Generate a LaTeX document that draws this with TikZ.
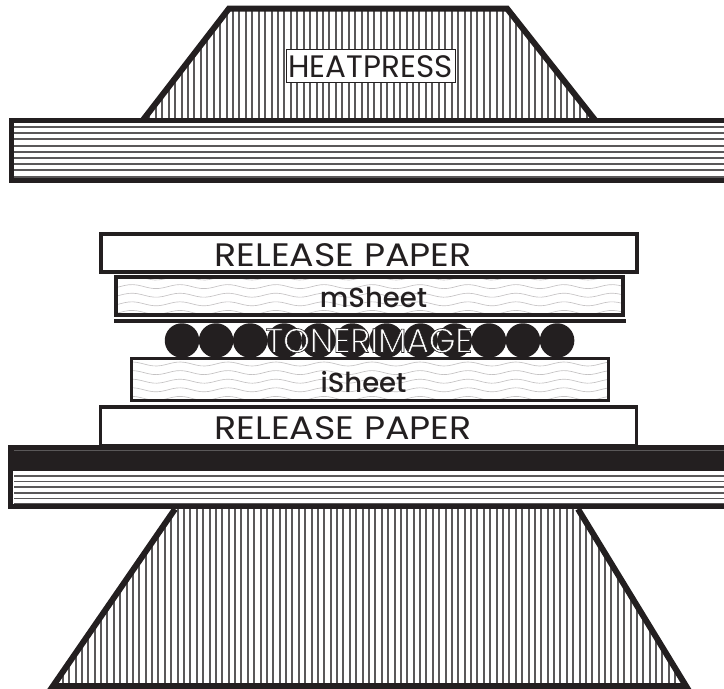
\documentclass[tikz,border=0pt]{standalone}
\usepackage{fontspec}
\setmainfont{Poppins Light}
\newfontfamily\medfont{Poppins Medium}
\newfontfamily\regfont{Poppins}
\newfontfamily\widefont[FakeStretch=1.12]{Poppins}
\definecolor{ink}{HTML}{231F20}
\definecolor{hatchgray}{HTML}{5A5859}
\definecolor{wavegray}{HTML}{C4C2C3}
\tikzset{
  heavy/.style={draw=ink,line width=6pt,line join=miter},
  hatchline/.style={draw=hatchgray,line width=2pt},
  waveline/.style={draw=wavegray,line width=.65pt},
  paperbox/.style={draw=ink,line width=4pt,fill=white},
  sheetbox/.style={draw=ink,line width=4pt},
  papertext/.style={inner sep=0pt,anchor=base,font=\widefont\fontsize{32.5}{32.5}\selectfont,text=ink},
  sheettext/.style={inner sep=0pt,anchor=base,font=\medfont\fontsize{27.5}{27.5}\selectfont,text=ink},
  toner/.style={circle,fill=ink,minimum size=34.5pt,inner sep=0pt}
}
\newcommand{\wavesin}[4]{% x0,x1,ystart,rows
  \begin{scope}
    \clip (#1,#3-5) rectangle (#2,#3+45);
    \foreach \r in {0,...,#4}{
      \pgfmathsetmacro{\yy}{#3+8.6*\r}
      \draw[waveline] plot[domain=#1:#2,samples=120,smooth] (\x,{\yy+2*sin(7.5*\x)});
    }
  \end{scope}}
\newcommand{\outlined}[1]{\special{pdf:code q 2 Tr 0.55 w 0.137 0.122 0.125 RG}#1\special{pdf:code Q}}
\begin{document}
\begin{tikzpicture}[x=1pt,y=-1pt]
\useasboundingbox (0,0) rectangle (724,689);
\clip (0,0) rectangle (724,689);
% top press
\begin{scope}
  \clip (229,8) -- (507,8) -- (595,120) -- (143,120) -- cycle;
  \foreach \i in {0,...,72} \draw[hatchline] ({143+6.43*\i},8) -- ({143+6.43*\i},120);
\end{scope}
\draw[heavy] (143,120) -- (229,8.5) -- (507,8.5) -- (595,120);
% top plate
\foreach \i in {0,...,8} \draw[hatchline] (9,{127+6.2*\i}) -- (724,{127+6.2*\i});
\draw[draw=ink,line width=5.5pt] (730,120.5) -- (11.5,120.5) -- (11.5,180.5) -- (730,180.5);
\node[draw=ink,line width=.5pt,fill=white,minimum width=169pt,minimum height=33pt,inner sep=0pt] (heatbox) at (370.5,65.5) {};
\node[inner sep=0pt,anchor=base,font=\regfont\fontsize{31}{31}\selectfont,text=ink] (heat) at (370.5,77) {HEATPRESS};
% middle stack
\node[paperbox,minimum width=536pt,minimum height=38pt,inner sep=0pt] (rel1) at (368.5,252.5) {};
\node[papertext] (rel1t) at (343,266) {RELEASE PAPER};
\wavesin{116}{622}{278}{4}
\node[sheetbox,minimum width=507pt,minimum height=38pt,inner sep=0pt] (msheet) at (369,296) {};
\node[sheettext] (msheett) at (373.5,307) {mSheet};
\coordinate (ml) at (114,321);
\coordinate (mr) at (626,321);
\draw[draw=ink,line width=3.5pt] (ml) -- (mr);
\foreach \i in {0,...,11} \node[toner] (t\i) at ({182+34.1*\i},340.5) {};
\node[inner sep=0pt,anchor=base,font=\fontsize{34}{34}\selectfont,text=white] (toneri) at (369,352.5) {\outlined{TONERIMAGE}};
\node[fill=white,minimum width=477pt,minimum height=41pt,inner sep=0pt] (isheet) at (370,379.5) {};
\wavesin{133}{607}{364}{4}
\draw[draw=ink,line width=3.2pt] (isheet.south west) rectangle (isheet.north east);
\node[sheettext] (isheett) at (363.5,392) {iSheet};
\node[paperbox,line width=3.5pt,minimum width=536pt,minimum height=39pt,inner sep=0pt] (rel2) at (368.5,426.5) {};
\node[papertext] (rel2t) at (343,439) {RELEASE PAPER};
% lower plate
\foreach \i in {0,...,5} \draw[hatchline,line width=1.6pt] (14,{476+5.6*\i}) -- (724,{476+5.6*\i});
\fill[ink] (8,445) rectangle (724,471);
\draw[draw=hatchgray,line width=.5pt] (14,450) -- (724,450);
\draw[draw=ink,line width=5.5pt] (10.5,445) -- (10.5,506.5) -- (730,506.5);
% lower press
\begin{scope}
  \clip (175,509) -- (578,509) -- (686,685) -- (53,685) -- cycle;
  \foreach \i in {0,...,100} \draw[hatchline] ({50+6.38*\i},509) -- ({50+6.38*\i},685);
\end{scope}
\draw[heavy] (175,509) -- (53,686) -- (686,686) -- (578,509);
\end{tikzpicture}
\end{document}
